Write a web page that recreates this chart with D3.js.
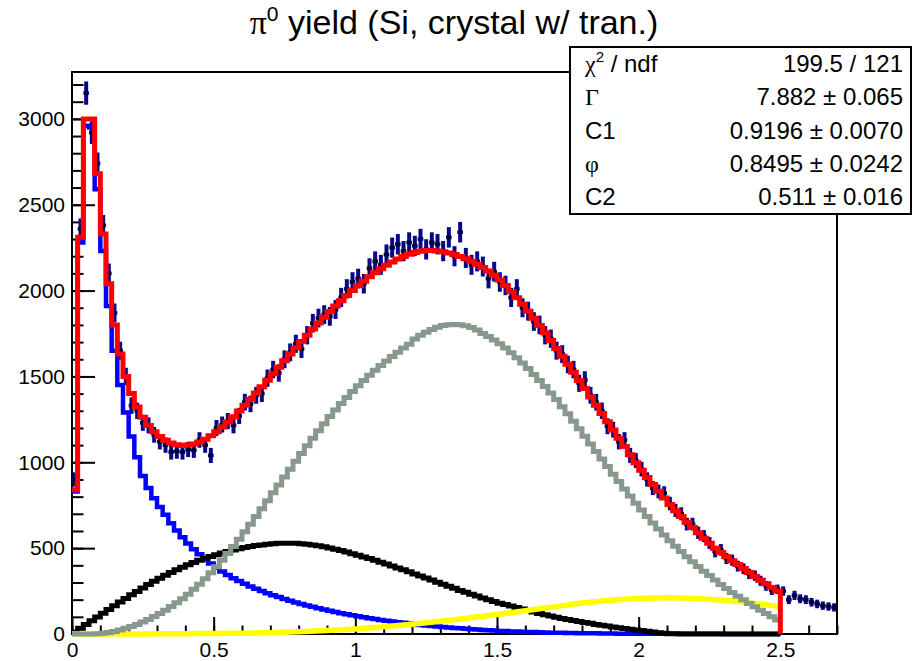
<!DOCTYPE html>
<html><head><meta charset="utf-8">
<script src="https://cdn.jsdelivr.net/npm/d3@7"></script>
<style>body{margin:0;background:#fff}svg{display:block}</style>
</head><body>
<svg id="c" width="921" height="661"></svg>
<script>
// ---------------- data ----------------
const binWidth = 0.02;
const xMax = 2.7, yMax = 3273, fitMax = 2.5;

// measured counts per bin (0 .. 2.7, 0.02 wide)
const dataCounts = [
 900,2360,3150,2920,2740,2380,2100,1870,1650,1500,
 1330,1300,1230,1215,1160,1120,1100,1060,1065,1060,
 1075,1070,1130,1100,1040,1200,1220,1240,1215,1270,
 1350,1340,1390,1400,1490,1540,1520,1600,1640,1690,
 1660,1740,1810,1840,1860,1850,1890,1960,2010,2050,
 2070,2040,2130,2170,2150,2210,2250,2270,2230,2280,
 2260,2300,2240,2280,2270,2230,2310,2200,2340,2190,
 2150,2170,2140,2070,2110,2050,2030,1960,2010,1900,
 1880,1820,1800,1740,1720,1650,1630,1570,1540,1460,
 1480,1390,1350,1300,1210,1190,1120,1130,1040,1010,
 960,900,850,830,820,760,720,700,640,640,
 590,570,530,480,490,440,430,395,380,350,
 340,310,280,255,260,250,200,225,205,200,
 185,175,165,160,155];

// total fit (red), per bin 0 .. 2.5
const fitTotal = [
 840,2310,3000,3000,2680,2330,2040,1800,1630,1500,
 1400,1322,1262,1215,1178,1150,1128,1112,1102,1098,
 1100,1107,1118,1134,1154,1178,1205,1234,1265,1298,
 1332,1367,1403,1440,1478,1516,1554,1592,1630,1667,
 1704,1740,1776,1811,1845,1878,1910,1941,1971,2000,
 2028,2055,2080,2104,2127,2148,2167,2184,2199,2212,
 2222,2229,2233,2234,2231,2226,2219,2210,2199,2186,
 2171,2154,2135,2114,2090,2062,2030,1995,1958,1920,
 1880,1839,1797,1754,1709,1663,1617,1571,1524,1477,
 1430,1380,1332,1284,1236,1188,1140,1092,1044,998,
 954,912,871,831,792,754,718,684,651,620,
 589,558,529,500,474,450,427,405,381,358,
 335,313,292,271,250];

// component 1 (blue)
const compBlue = [
 830,2280,2960,2950,2590,2230,1910,1650,1450,1290,
 1150,1030,920,850,790,740,695,645,603,563,
 527,494,464,436,410,386,364,344,325,308,
 292,277,263,250,238,226,215,204,194,184,
 175,166,158,150,142,135,128,121,115,109,
 103,97,92,87,82,77,73,69,65,61,
 57,53,50,47,44,41,38,35,33,30,
 28,26,24,22,20,18,17,15,14,13,
 12,11,10,9,8,7,7,6,6,5,
 5,4,4,3,3,3,2,2,2,2,
 1,1,1,1,1,1,1,1,1,1,
 1,1,1,1,1,0,0,0,0,0,
 0,0,0,0,0];

// component 2 (grey)
const compGray = [
 0,0,0,0,1,4,9,15,23,33,
 44,56,70,85,102,120,139,160,182,206,
 232,260,290,322,356,392,430,469,510,552,
 595,639,684,730,776,822,868,914,960,1006,
 1051,1096,1140,1183,1225,1266,1305,1342,1378,1413,
 1446,1477,1507,1536,1563,1590,1616,1641,1665,1687,
 1718,1740,1758,1774,1787,1796,1801,1803,1801,1795,
 1785,1770,1750,1732,1712,1691,1665,1638,1609,1578,
 1546,1512,1477,1441,1404,1365,1324,1282,1239,1195,
 1151,1107,1063,1019,975,931,888,845,803,762,
 722,684,647,611,576,543,511,480,450,421,
 393,366,340,314,289,265,242,220,199,178,
 158,138,119,100,82];

// component 3 (black)
const compBlack = [
 12,33,55,77,99,121,143,165,186,207,
 228,248,268,288,307,325,342,358,374,389,
 403,416,429,441,452,462,472,481,489,497,
 504,510,515,519,523,526,528,529,529,528,
 526,523,519,514,508,501,494,486,477,468,
 459,449,439,429,418,407,396,385,374,362,
 350,338,326,314,302,290,278,266,254,243,
 232,221,210,199,189,179,172,163,154,145,
 137,128,120,112,105,98,91,85,79,73,
 67,62,56,51,46,41,37,32,28,24,
 20,16,12,8,5,2,1,0,0,0,
 0,0,0,0,0,0,0,0,0,0,
 0,0,0,0,0];

// component 4 (yellow, smooth)
const yellowX = [0,0.1,0.2,0.3,0.4,0.5,0.6,0.7,0.8,0.9,1.0,1.1,1.2,1.3,1.4,1.5,1.6,1.7,1.8,1.9,2.0,2.1,2.2,2.3,2.4,2.5];
const yellowY = [0,0,0,1,2,3,5,8,13,20,29,42,57,74,93,113,135,158,180,197,207,211,207,196,180,158];

const xTicks = [0,0.5,1,1.5,2,2.5];
const xTickLabels = ["0","0.5","1","1.5","2","2.5"];
const yTicks = [0,500,1000,1500,2000,2500,3000];
const yTickLabels = ["0","500","1000","1500","2000","2500","3000"];

const statLabels = ["chi2","Gamma","C1","phi","C2"];
const statValues = ["199.5 / 121","7.882 \u00b1 0.065","0.9196 \u00b1 0.0070","0.8495 \u00b1 0.0242","0.511 \u00b1 0.016"];

// ---------------- drawing ----------------
const SANS = "'Liberation Sans', Arial, Helvetica, sans-serif";
const SERIF = "'Liberation Serif', 'Times New Roman', serif";
const svg = d3.select('#c');
const L = 72, R = 837, T = 72, B = 634;
const x = d3.scaleLinear().domain([0, xMax]).range([L, R]);
const y = d3.scaleLinear().domain([0, yMax]).range([B, T]);

svg.append('rect').attr('width',921).attr('height',661).attr('fill','#fff');

// frame
svg.append('rect').attr('x',L).attr('y',T).attr('width',R-L).attr('height',B-T)
  .attr('fill','none').attr('stroke','#000').attr('stroke-width',2);

function styleAxis(g){
  g.select('.domain').remove();
  g.selectAll('line').attr('stroke','#000').attr('stroke-width',2);
  g.selectAll('text').attr('font-family',SANS).attr('font-size',21).attr('fill','#000');
}
// x axis
svg.append('g').attr('transform',`translate(0,${B})`)
  .call(d3.axisBottom(x).tickValues(d3.range(0,28).map(i=>i/10)).tickSize(-8.5).tickFormat(''))
  .call(styleAxis);
svg.append('g').attr('transform',`translate(0,${B})`)
  .call(d3.axisBottom(x).tickValues(xTicks).tickFormat((d,i)=>xTickLabels[i]).tickSize(-17).tickPadding(8))
  .call(styleAxis);
// y axis
svg.append('g').attr('transform',`translate(${L},0)`)
  .call(d3.axisLeft(y).tickValues(d3.range(0,33).map(i=>i*100)).tickSize(-11.5).tickFormat(''))
  .call(styleAxis);
svg.append('g').attr('transform',`translate(${L},0)`)
  .call(d3.axisLeft(y).tickValues(yTicks).tickFormat((d,i)=>yTickLabels[i]).tickSize(-23).tickPadding(7))
  .call(styleAxis);

// data points with error bars
const pts = svg.append('g');
const ptColor = '#06068a';
dataCounts.forEach((v,i)=>{
  const lo = i*binWidth, hi = (i+1)*binWidth, c = (i+0.5)*binWidth;
  const e = Math.sqrt(v);
  pts.append('line').attr('x1',x(c)).attr('x2',x(c)).attr('y1',y(v-e)).attr('y2',y(v+e))
    .attr('stroke',ptColor).attr('stroke-width',4).attr('stroke-linecap','square');
  pts.append('line').attr('x1',x(lo)).attr('x2',x(hi)).attr('y1',y(v)).attr('y2',y(v))
    .attr('stroke',ptColor).attr('stroke-width',3.5);
  pts.append('rect').attr('x',x(c)-2).attr('y',y(v)-2).attr('width',4).attr('height',4).attr('fill','#00002a');
});

// step histograms
const stepLine = d3.line().x(d=>x(d[0])).y(d=>y(d[1])).curve(d3.curveStepAfter);
function stepPts(arr, dropToZero){
  const p = arr.map((v,i)=>[i*binWidth, v]);
  p.push([fitMax, arr[arr.length-1]]);
  if (dropToZero) p.push([fitMax, 0]);
  return p;
}
function drawStep(arr, color, w, drop){
  svg.append('path').attr('d', stepLine(stepPts(arr, drop))).attr('fill','none')
    .attr('stroke',color).attr('stroke-width',w).attr('stroke-linejoin','miter');
}
drawStep(compBlue, '#0000ff', 4.5, false);
drawStep(compBlack, '#000000', 5, false);
svg.append('path')
  .attr('d', d3.line().x(d=>x(d[0])).y(d=>y(d[1])).curve(d3.curveMonotoneX)(yellowX.map((v,i)=>[v, yellowY[i]])))
  .attr('fill','none').attr('stroke','#ffff00').attr('stroke-width',5.5);
drawStep(compGray, '#87998d', 5, false);
drawStep(fitTotal, '#ff0000', 5, true);

// title
const title = svg.append('text').attr('x',454).attr('y',34).attr('text-anchor','middle')
  .attr('font-family',SANS).attr('font-size',34).attr('fill','#000');
title.append('tspan').attr('font-family',SERIF).text('\u03c0');
title.append('tspan').attr('font-size',21).attr('dy',-13).text('0');
title.append('tspan').attr('dy',13).text(' yield (Si, crystal w/ tran.)');

// stats box
const bx = 570, by = 47, bw = 341, bh = 167;
svg.append('rect').attr('x',bx).attr('y',by).attr('width',bw).attr('height',bh)
  .attr('fill','#fff').attr('stroke','#000').attr('stroke-width',2);
const rowH = bh/statLabels.length;
statLabels.forEach((lab,i)=>{
  const cy = by + rowH*(i+0.5) + 8;
  const t = svg.append('text').attr('x',bx+15).attr('y',cy).attr('font-family',SANS).attr('font-size',24).attr('fill','#000');
  if (lab==='chi2'){
    t.append('tspan').attr('font-family',SERIF).text('\u03c7');
    t.append('tspan').attr('font-size',15).attr('dy',-10).text('2');
    t.append('tspan').attr('dy',10).text(' / ndf');
  } else if (lab==='Gamma'){
    t.append('tspan').attr('font-family',SERIF).text('\u0393');
  } else if (lab==='phi'){
    t.append('tspan').attr('font-family',SERIF).text('\u03c6');
  } else t.text(lab);
  svg.append('text').attr('x',bx+bw-8).attr('y',cy).attr('text-anchor','end')
    .attr('font-family',SANS).attr('font-size',24).attr('fill','#000').text(statValues[i]);
});
</script>
</body></html>
